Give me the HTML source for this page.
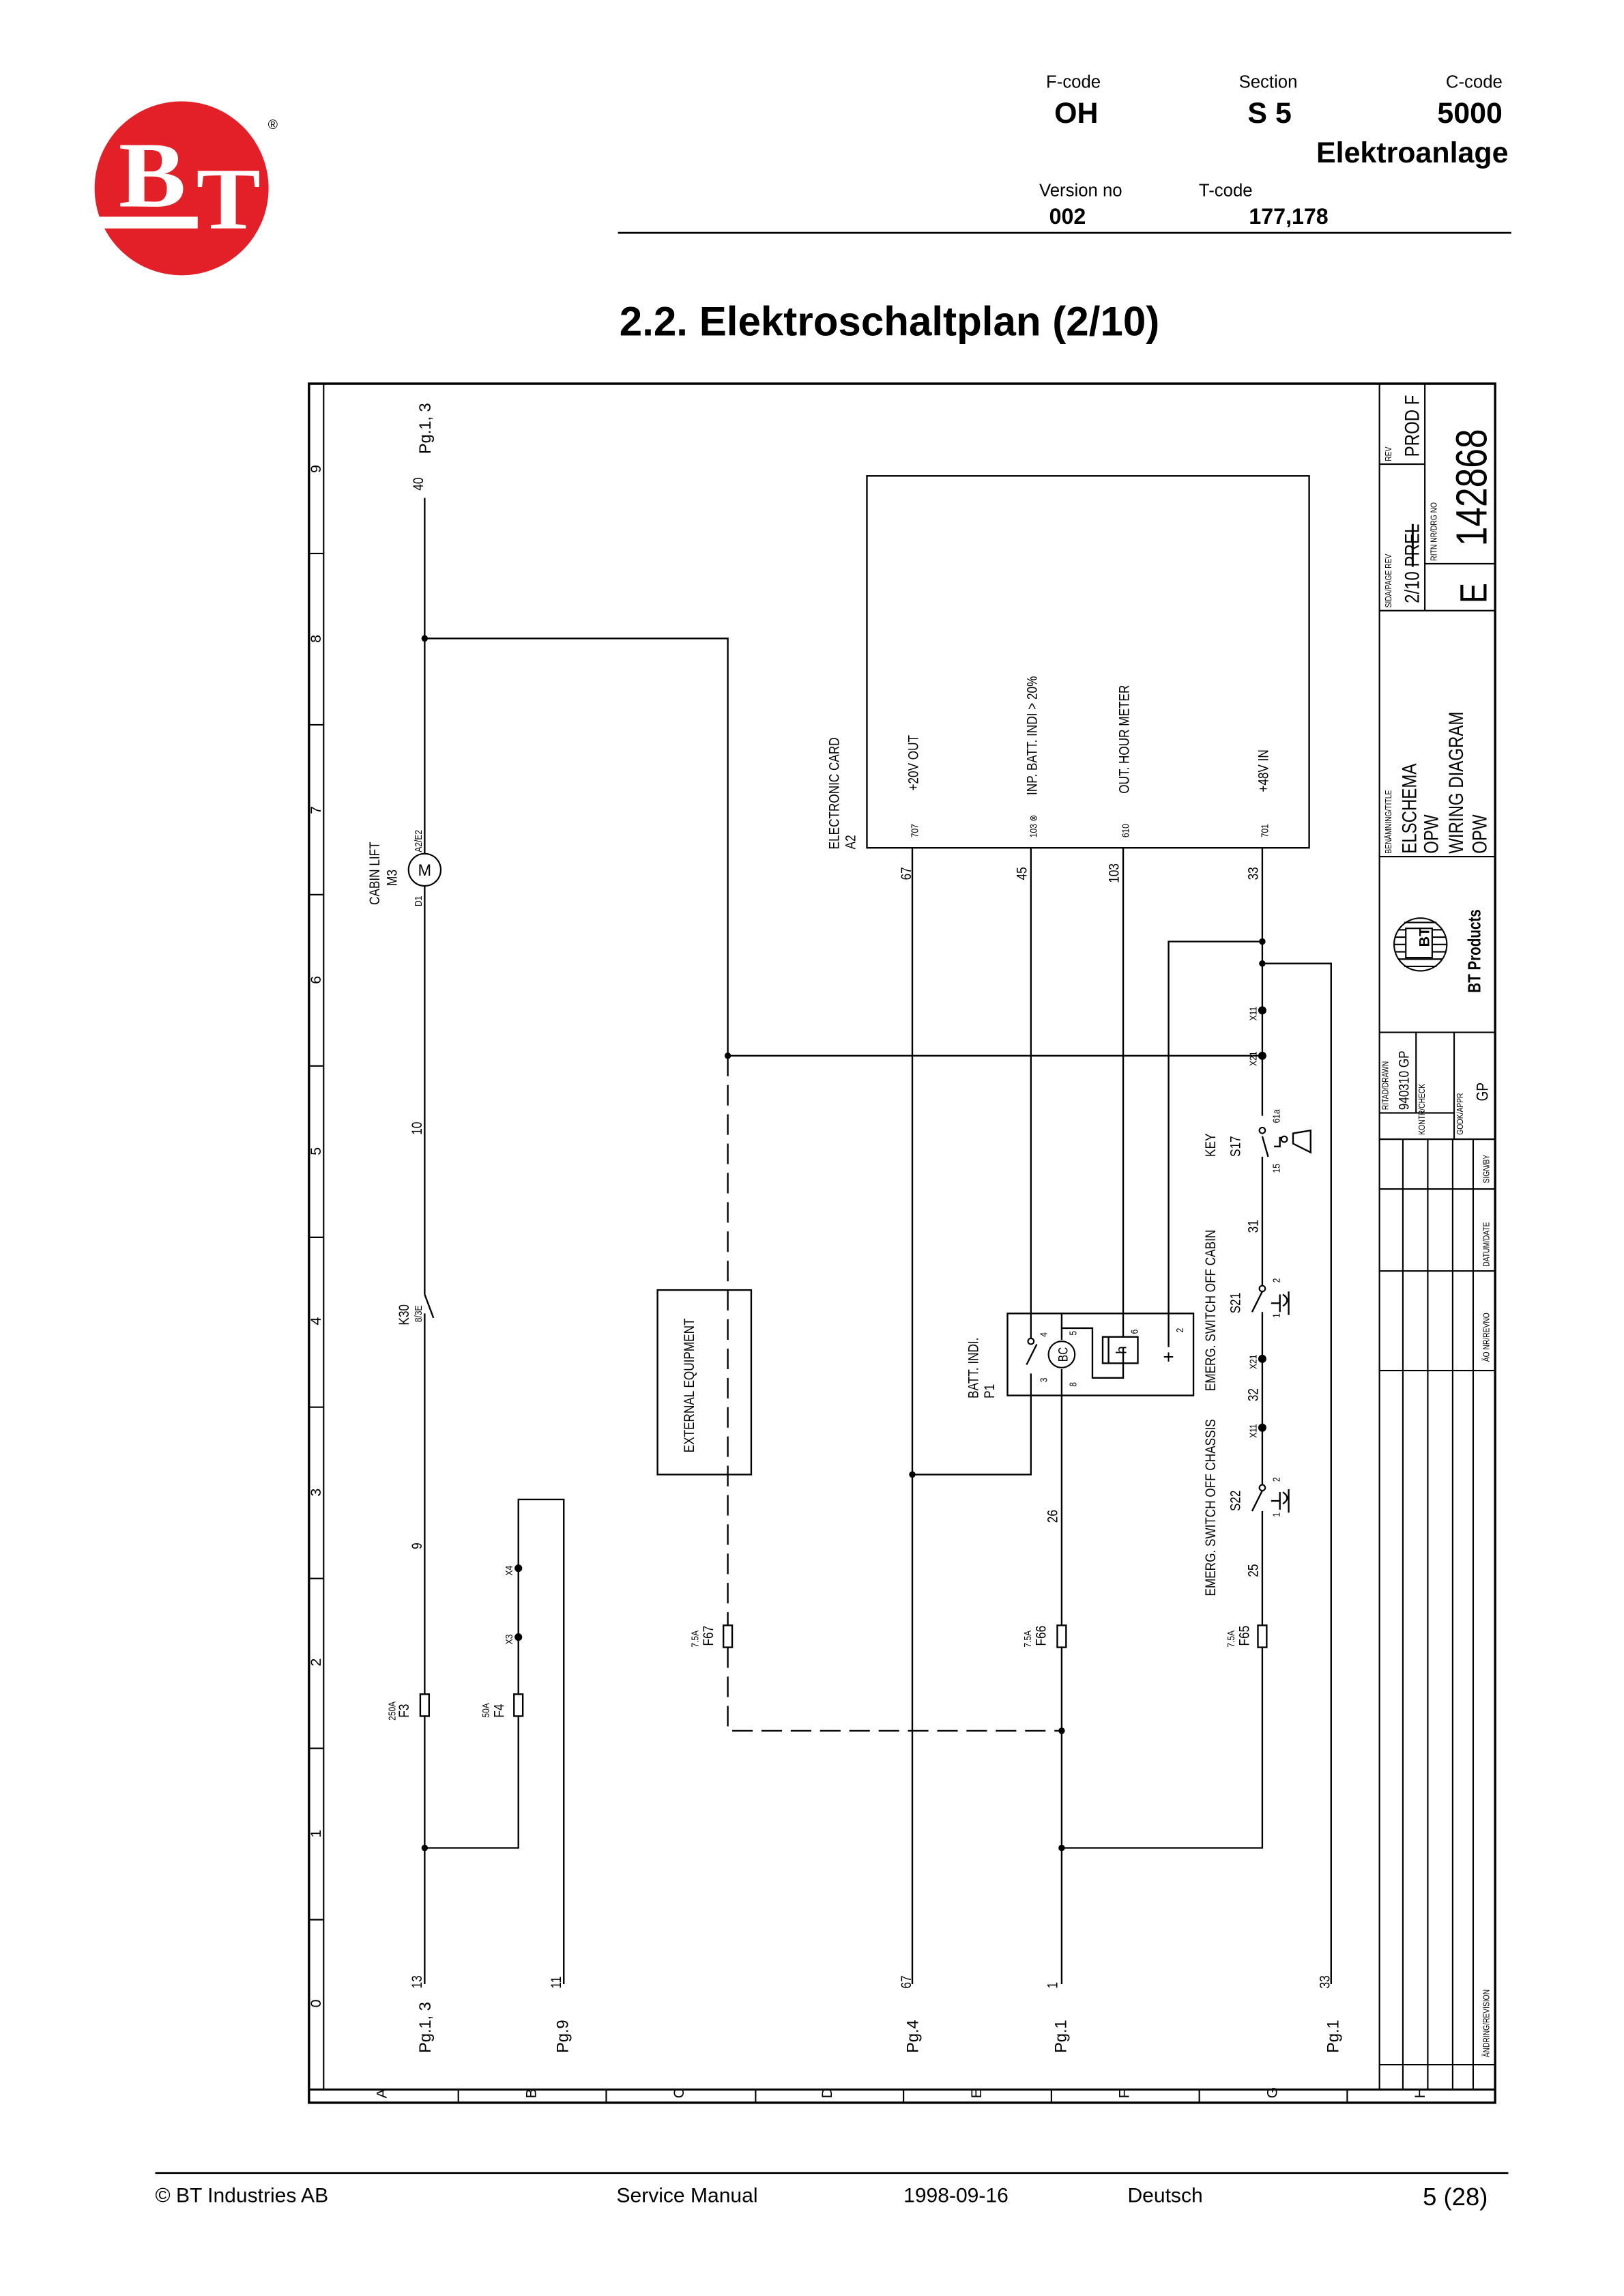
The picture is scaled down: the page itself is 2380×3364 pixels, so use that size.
<!DOCTYPE html>
<html><head><meta charset="utf-8"><style>
html,body{margin:0;padding:0;background:#fff}
svg{display:block}
.h{font-family:"Liberation Sans",sans-serif}
.d{font-family:"Liberation Sans Narrow","Liberation Sans",sans-serif;font-size:10px}
</style></head><body>
<svg width="2380" height="3364" viewBox="0 0 1109 1568" preserveAspectRatio="none" xmlns="http://www.w3.org/2000/svg">
<!-- header -->
<circle cx="124" cy="128.6" r="59.4" fill="#e32028"/>
<text x="81" y="141" font-size="64" font-weight="bold" fill="#fff" font-family="Liberation Serif" textLength="46" lengthAdjust="spacingAndGlyphs">B</text>
<text x="134" y="156" font-size="60" font-weight="bold" fill="#fff" font-family="Liberation Serif" textLength="44" lengthAdjust="spacingAndGlyphs">T</text>
<rect x="66" y="148" width="69" height="8" fill="#fff"/>
<text x="183" y="88" class="h" font-size="9">®</text>
<g class="h" fill="#000">
<text x="733" y="60" font-size="12" text-anchor="middle">F-code</text>
<text x="735" y="84" font-size="20" font-weight="bold" text-anchor="middle">OH</text>
<text x="866" y="60" font-size="12" text-anchor="middle">Section</text>
<text x="867" y="84" font-size="20" font-weight="bold" text-anchor="middle">S 5</text>
<text x="1026" y="60" font-size="12" text-anchor="end">C-code</text>
<text x="1026" y="84" font-size="20" font-weight="bold" text-anchor="end">5000</text>
<text x="1030" y="111" font-size="20" font-weight="bold" text-anchor="end">Elektroanlage</text>
<text x="738" y="134" font-size="12" text-anchor="middle">Version no</text>
<text x="729" y="153" font-size="15" font-weight="bold" text-anchor="middle">002</text>
<text x="837" y="134" font-size="12" text-anchor="middle">T-code</text>
<text x="880" y="153" font-size="15" font-weight="bold" text-anchor="middle">177,178</text>
<text x="423" y="229" font-size="28" font-weight="bold">2.2. Elektroschaltplan (2/10)</text>
<text x="106" y="1504" font-size="14">© BT Industries AB</text>
<text x="421" y="1504" font-size="14">Service Manual</text>
<text x="617" y="1504" font-size="14">1998-09-16</text>
<text x="770" y="1504" font-size="14">Deutsch</text>
<text x="1016" y="1506" font-size="17" text-anchor="end">5 (28)</text>
</g>
<line x1="422" y1="159" x2="1032" y2="159" stroke="#000" stroke-width="1.3"/>
<line x1="106" y1="1484" x2="1030" y2="1484" stroke="#000" stroke-width="1.3"/>

<!-- frame -->
<g stroke="#000" fill="none" stroke-width="1">
<rect x="211" y="262" width="810" height="1174" stroke-width="1.6"/>
<line x1="221" y1="262" x2="221" y2="1427"/>
<line x1="211" y1="1427" x2="1021" y2="1427" stroke-width="1.4"/>
<line x1="313" y1="1427" x2="313" y2="1436"/><line x1="414" y1="1427" x2="414" y2="1436"/>
<line x1="516" y1="1427" x2="516" y2="1436"/><line x1="617" y1="1427" x2="617" y2="1436"/>
<line x1="718" y1="1427" x2="718" y2="1436"/><line x1="819" y1="1427" x2="819" y2="1436"/>
<line x1="920" y1="1427" x2="920" y2="1436"/>
<line x1="211" y1="378" x2="221" y2="378"/><line x1="211" y1="495" x2="221" y2="495"/>
<line x1="211" y1="611" x2="221" y2="611"/><line x1="211" y1="728" x2="221" y2="728"/>
<line x1="211" y1="845" x2="221" y2="845"/><line x1="211" y1="961" x2="221" y2="961"/>
<line x1="211" y1="1078" x2="221" y2="1078"/><line x1="211" y1="1194" x2="221" y2="1194"/>
<line x1="211" y1="1311" x2="221" y2="1311"/>
<!-- title block -->
<line x1="942" y1="262" x2="942" y2="1427"/>
<line x1="973" y1="262" x2="973" y2="417"/>
<line x1="942" y1="317" x2="973" y2="317"/>
<line x1="973" y1="385" x2="1021" y2="385"/>
<line x1="942" y1="417" x2="1021" y2="417"/>
<line x1="942" y1="585" x2="1021" y2="585"/>
<line x1="942" y1="705" x2="1021" y2="705"/>
<line x1="967" y1="705" x2="967" y2="760"/>
<line x1="993" y1="705" x2="993" y2="778"/>
<line x1="942" y1="760" x2="993" y2="760"/>
<line x1="942" y1="778" x2="1021" y2="778"/>
<line x1="958" y1="778" x2="958" y2="1427"/>
<line x1="975" y1="778" x2="975" y2="1427"/>
<line x1="992" y1="778" x2="992" y2="1427"/>
<line x1="1006" y1="778" x2="1006" y2="1427"/>
<line x1="942" y1="812" x2="1021" y2="812"/>
<line x1="942" y1="868" x2="1021" y2="868"/>
<line x1="942" y1="936" x2="1021" y2="936"/>
<line x1="942" y1="1410" x2="1021" y2="1410"/>
</g>
<g class="d" font-size="8">
<text transform="translate(264,1433) rotate(-90)">A</text>
<text transform="translate(366,1433) rotate(-90)">B</text>
<text transform="translate(467,1433) rotate(-90)">C</text>
<text transform="translate(568,1433) rotate(-90)">D</text>
<text transform="translate(670,1433) rotate(-90)">E</text>
<text transform="translate(771,1433) rotate(-90)">F</text>
<text transform="translate(872,1433) rotate(-90)">G</text>
<text transform="translate(973,1433) rotate(-90)">H</text>
<text transform="translate(219,323) rotate(-90)">9</text>
<text transform="translate(219,439) rotate(-90)">8</text>
<text transform="translate(219,556) rotate(-90)">7</text>
<text transform="translate(219,672) rotate(-90)">6</text>
<text transform="translate(219,789) rotate(-90)">5</text>
<text transform="translate(219,905) rotate(-90)">4</text>
<text transform="translate(219,1022) rotate(-90)">3</text>
<text transform="translate(219,1138) rotate(-90)">2</text>
<text transform="translate(219,1255) rotate(-90)">1</text>
<text transform="translate(219,1371) rotate(-90)">0</text>
</g>
<!-- title block text -->
<g class="d">
<text transform="translate(950,315) rotate(-90) scale(0.8,1)" font-size="6">REV</text>
<text transform="translate(969,312) rotate(-90) scale(0.8,1)" font-size="14">PROD F</text>
<text transform="translate(950,415) rotate(-90) scale(0.8,1)" font-size="6">SIDA/PAGE REV</text>
<text transform="translate(969,412) rotate(-90) scale(0.8,1)" font-size="14">2/10 <tspan text-decoration="line-through">PREL</tspan></text>
<text transform="translate(981,383) rotate(-90) scale(0.8,1)" font-size="6">RITN NR/DRG NO</text>
<text transform="translate(1015,373) rotate(-90) scale(0.8,1)" font-size="30" font-weight="100">142868</text>
<text transform="translate(1015,412) rotate(-90) scale(0.8,1)" font-size="26">E</text>
<text transform="translate(950,583) rotate(-90) scale(0.8,1)" font-size="6">BENÄMNING/TITLE</text>
<text transform="translate(967,583) rotate(-90) scale(0.8,1)" font-size="14">ELSCHEMA</text>
<text transform="translate(982,583) rotate(-90) scale(0.8,1)" font-size="14">OPW</text>
<text transform="translate(999,583) rotate(-90) scale(0.8,1)" font-size="14">WIRING DIAGRAM</text>
<text transform="translate(1015,583) rotate(-90) scale(0.8,1)" font-size="14">OPW</text>
<text transform="translate(1011,678) rotate(-90) scale(0.8,1)" font-size="12" font-weight="bold">BT Products</text>
<text transform="translate(948,758) rotate(-90) scale(0.8,1)" font-size="6">RITAD/DRAWN</text>
<text transform="translate(962,758) rotate(-90) scale(0.8,1)" font-size="10">940310  GP</text>
<text transform="translate(973,775) rotate(-90) scale(0.8,1)" font-size="6">KONTR/CHECK</text>
<text transform="translate(999,775) rotate(-90) scale(0.8,1)" font-size="6">GODK/APPR</text>
<text transform="translate(1016,752) rotate(-90) scale(0.8,1)" font-size="11">GP</text>
<text transform="translate(1017,808) rotate(-90) scale(0.8,1)" font-size="6">SIGN/BY</text>
<text transform="translate(1017,865) rotate(-90) scale(0.8,1)" font-size="6">DATUM/DATE</text>
<text transform="translate(1017,930) rotate(-90) scale(0.8,1)" font-size="6">ÄO NR/REVNO</text>
<text transform="translate(1017,1405) rotate(-90) scale(0.8,1)" font-size="6">ÄNDRING/REVISION</text>
</g>
<g>
<circle cx="970" cy="645" r="18" fill="#fff" stroke="#000" stroke-width="1"/>
<g stroke="#000" stroke-width="1">
<line x1="955" y1="635" x2="985" y2="635"/><line x1="953" y1="640" x2="987" y2="640"/><line x1="952" y1="645" x2="988" y2="645"/><line x1="953" y1="650" x2="987" y2="650"/><line x1="955" y1="655" x2="985" y2="655"/><line x1="959" y1="630" x2="981" y2="630"/><line x1="959" y1="660" x2="981" y2="660"/>
</g>
<rect x="960" y="634" width="18" height="20" fill="#fff" stroke="#000"/>
<text transform="translate(976,640) rotate(-90)" class="d" font-size="11" font-weight="bold" text-anchor="middle">BT</text>
</g>

<!-- wiring -->
<g stroke="#000" fill="none" stroke-width="1.1">
<line x1="290" y1="340" x2="290" y2="583"/>
<line x1="290" y1="605" x2="290" y2="884"/>
<line x1="290" y1="884" x2="296" y2="900"/>
<line x1="290" y1="897" x2="290" y2="1157"/>
<rect x="287" y="1157" width="6" height="15"/>
<line x1="290" y1="1172" x2="290" y2="1355"/>
<polyline points="290,436 497,436 497,721 862,721"/>
<line x1="497" y1="721" x2="497" y2="1110" stroke-dasharray="14,6"/>
<rect x="494" y="1110" width="6" height="15"/>
<polyline points="497,1125 497,1182 725,1182" stroke-dasharray="14,6"/>
<polyline points="290,1262 354,1262 354,1172"/>
<rect x="351" y="1157" width="6" height="15"/>
<polyline points="354,1157 354,1024 385,1024 385,1355"/>
<rect x="449" y="881" width="64" height="126"/>
<rect x="592" y="325" width="302" height="254"/>
<line x1="623" y1="579" x2="623" y2="1355"/>
<polyline points="623,1007 704,1007 704,938"/>
<line x1="704" y1="579" x2="704" y2="914"/>
<line x1="701" y1="932" x2="708" y2="918"/>
<line x1="725" y1="1110" x2="725" y2="935"/>
<rect x="722" y="1110" width="6" height="15"/>
<line x1="725" y1="1125" x2="725" y2="1355"/>
<line x1="725" y1="915" x2="725" y2="897"/>
<rect x="688" y="897" width="127" height="56"/>
<polyline points="725,907 746,907 746,941 767,941 767,920"/>
<rect x="753" y="913" width="24" height="18"/>
<line x1="757" y1="913" x2="757" y2="931"/>
<line x1="767" y1="579" x2="767" y2="913"/>
<polyline points="862,643 798,643 798,920"/>
<line x1="862" y1="579" x2="862" y2="762"/>
<line x1="862" y1="776" x2="866" y2="790"/>
<line x1="862" y1="790" x2="862" y2="880"/>
<line x1="862" y1="882" x2="855" y2="896"/>
<line x1="862" y1="896" x2="862" y2="1016"/>
<line x1="862" y1="1018" x2="855" y2="1032"/>
<line x1="862" y1="1032" x2="862" y2="1110"/>
<rect x="859" y="1110" width="6" height="15"/>
<polyline points="862,1125 862,1262 725,1262"/>
<polyline points="862,658 909,658 909,1355"/>
<polyline points="870,783 874,783 874,777 879,777"/>
<path d="M883,774 L895,772 L895,787 L883,781 Z"/>
<path d="M868,890 l6,0 0,-6 0,12 M876,884 q6,4 0,8 M880,882 l0,16"/>
<path d="M868,1025 l6,0 0,-6 0,12 M876,1019 q6,4 0,8 M880,1017 l0,16"/>
</g>
<g fill="#000">
<circle cx="290" cy="436" r="2.2"/><circle cx="497" cy="721" r="2.2"/><circle cx="290" cy="1262" r="2.2"/>
<circle cx="354" cy="1118" r="2.6"/><circle cx="354" cy="1071" r="2.6"/><circle cx="623" cy="1007" r="2.2"/>
<circle cx="725" cy="1182" r="2.2"/><circle cx="725" cy="1262" r="2.2"/>
<circle cx="862" cy="643" r="2.2"/><circle cx="862" cy="658" r="2.2"/>
<circle cx="862" cy="690" r="2.8"/><circle cx="862" cy="721" r="2.8"/>
<circle cx="862" cy="928" r="2.8"/><circle cx="862" cy="975" r="2.8"/>
</g>
<g fill="#fff" stroke="#000" stroke-width="1">
<circle cx="290" cy="594" r="11"/>
<circle cx="725" cy="925" r="9"/>
<circle cx="862" cy="772" r="2"/><circle cx="862" cy="880" r="2"/><circle cx="862" cy="1016" r="2"/>
<circle cx="704" cy="916" r="2"/><circle cx="877" cy="778" r="2"/>
</g>
<g class="d">
<text x="290" y="598" font-size="11" text-anchor="middle">M</text>
<text transform="translate(729,925) rotate(-90) scale(0.8,1)" font-size="9" text-anchor="middle">BC</text>
<text transform="translate(769,922) rotate(-90)" font-size="10" text-anchor="middle">h</text>
<text x="798" y="931" font-size="13" text-anchor="middle">+</text>
<text transform="translate(294,310) rotate(-90)" font-size="11">Pg.1, 3</text>
<text transform="translate(289,335) rotate(-90) scale(0.8,1)">40</text>
<text transform="translate(259,618) rotate(-90) scale(0.8,1)">CABIN LIFT</text>
<text transform="translate(271,605) rotate(-90) scale(0.8,1)">M3</text>
<text transform="translate(288,619) rotate(-90) scale(0.8,1)" font-size="7">D1</text>
<text transform="translate(288,582) rotate(-90) scale(0.8,1)" font-size="7">A2/E2</text>
<text transform="translate(288,775) rotate(-90) scale(0.8,1)">10</text>
<text transform="translate(279,905) rotate(-90) scale(0.8,1)">K30</text>
<text transform="translate(288,903) rotate(-90) scale(0.8,1)" font-size="7">8/3E</text>
<text transform="translate(288,1058) rotate(-90) scale(0.8,1)">9</text>
<text transform="translate(270,1175) rotate(-90) scale(0.8,1)" font-size="7">250A</text>
<text transform="translate(279,1173) rotate(-90) scale(0.8,1)">F3</text>
<text transform="translate(288,1358) rotate(-90) scale(0.8,1)">13</text>
<text transform="translate(294,1402) rotate(-90)" font-size="11">Pg.1, 3</text>
<text transform="translate(350,1076) rotate(-90) scale(0.8,1)" font-size="7">X4</text>
<text transform="translate(350,1123) rotate(-90) scale(0.8,1)" font-size="7">X3</text>
<text transform="translate(334,1173) rotate(-90) scale(0.8,1)" font-size="7">50A</text>
<text transform="translate(344,1173) rotate(-90) scale(0.8,1)">F4</text>
<text transform="translate(383,1358) rotate(-90) scale(0.8,1)">11</text>
<text transform="translate(388,1402) rotate(-90)" font-size="11">Pg.9</text>
<text transform="translate(474,992) rotate(-90) scale(0.8,1)">EXTERNAL EQUIPMENT</text>
<text transform="translate(477,1125) rotate(-90) scale(0.8,1)" font-size="7">7.5A</text>
<text transform="translate(487,1124) rotate(-90) scale(0.8,1)">F67</text>
<text transform="translate(573,580) rotate(-90) scale(0.8,1)">ELECTRONIC CARD</text>
<text transform="translate(584,580) rotate(-90) scale(0.8,1)">A2</text>
<text transform="translate(627,572) rotate(-90) scale(0.8,1)" font-size="7">707</text>
<text transform="translate(627,540) rotate(-90) scale(0.8,1)">+20V OUT</text>
<text transform="translate(708,572) rotate(-90) scale(0.8,1)" font-size="7">103 ⊗</text>
<text transform="translate(708,543) rotate(-90) scale(0.8,1)">INP. BATT. INDI &gt; 20%</text>
<text transform="translate(771,572) rotate(-90) scale(0.8,1)" font-size="7">610</text>
<text transform="translate(771,542) rotate(-90) scale(0.8,1)">OUT. HOUR METER</text>
<text transform="translate(866,572) rotate(-90) scale(0.8,1)" font-size="7">701</text>
<text transform="translate(866,541) rotate(-90) scale(0.8,1)">+48V IN</text>
<text transform="translate(622,601) rotate(-90) scale(0.8,1)">67</text>
<text transform="translate(701,601) rotate(-90) scale(0.8,1)">45</text>
<text transform="translate(764,603) rotate(-90) scale(0.8,1)">103</text>
<text transform="translate(859,601) rotate(-90) scale(0.8,1)">33</text>
<text transform="translate(668,955) rotate(-90) scale(0.8,1)">BATT. INDI.</text>
<text transform="translate(679,955) rotate(-90) scale(0.8,1)">P1</text>
<text transform="translate(715,944) rotate(-90) scale(0.8,1)" font-size="7">3</text>
<text transform="translate(715,913) rotate(-90) scale(0.8,1)" font-size="7">4</text>
<text transform="translate(735,947) rotate(-90) scale(0.8,1)" font-size="7">8</text>
<text transform="translate(735,912) rotate(-90) scale(0.8,1)" font-size="7">5</text>
<text transform="translate(777,911) rotate(-90) scale(0.8,1)" font-size="7">6</text>
<text transform="translate(808,910) rotate(-90) scale(0.8,1)" font-size="7">2</text>
<text transform="translate(722,1040) rotate(-90) scale(0.8,1)">26</text>
<text transform="translate(704,1125) rotate(-90) scale(0.8,1)" font-size="7">7.5A</text>
<text transform="translate(714,1124) rotate(-90) scale(0.8,1)">F66</text>
<text transform="translate(622,1358) rotate(-90) scale(0.8,1)">67</text>
<text transform="translate(627,1402) rotate(-90)" font-size="11">Pg.4</text>
<text transform="translate(722,1358) rotate(-90) scale(0.8,1)">1</text>
<text transform="translate(728,1402) rotate(-90)" font-size="11">Pg.1</text>
<text transform="translate(908,1358) rotate(-90) scale(0.8,1)">33</text>
<text transform="translate(914,1402) rotate(-90)" font-size="11">Pg.1</text>
<text transform="translate(830,1090) rotate(-90) scale(0.8,1)">EMERG. SWITCH OFF CHASSIS</text>
<text transform="translate(830,950) rotate(-90) scale(0.8,1)">EMERG. SWITCH OFF CABIN</text>
<text transform="translate(830,790) rotate(-90) scale(0.8,1)">KEY</text>
<text transform="translate(847,1032) rotate(-90) scale(0.8,1)">S22</text>
<text transform="translate(847,897) rotate(-90) scale(0.8,1)">S21</text>
<text transform="translate(847,790) rotate(-90) scale(0.8,1)">S17</text>
<text transform="translate(859,1077) rotate(-90) scale(0.8,1)">25</text>
<text transform="translate(858,982) rotate(-90) scale(0.8,1)" font-size="7">X11</text>
<text transform="translate(859,957) rotate(-90) scale(0.8,1)">32</text>
<text transform="translate(858,935) rotate(-90) scale(0.8,1)" font-size="7">X21</text>
<text transform="translate(859,842) rotate(-90) scale(0.8,1)">31</text>
<text transform="translate(858,728) rotate(-90) scale(0.8,1)" font-size="7">X21</text>
<text transform="translate(858,697) rotate(-90) scale(0.8,1)" font-size="7">X11</text>
<text transform="translate(874,767) rotate(-90) scale(0.8,1)" font-size="7">61a</text>
<text transform="translate(874,801) rotate(-90) scale(0.8,1)" font-size="7">15</text>
<text transform="translate(874,876) rotate(-90) scale(0.8,1)" font-size="7">2</text>
<text transform="translate(874,900) rotate(-90) scale(0.8,1)" font-size="7">1</text>
<text transform="translate(874,1012) rotate(-90) scale(0.8,1)" font-size="7">2</text>
<text transform="translate(874,1036) rotate(-90) scale(0.8,1)" font-size="7">1</text>
<text transform="translate(843,1125) rotate(-90) scale(0.8,1)" font-size="7">7.5A</text>
<text transform="translate(853,1124) rotate(-90) scale(0.8,1)">F65</text>
</g>
</svg>
</body></html>
